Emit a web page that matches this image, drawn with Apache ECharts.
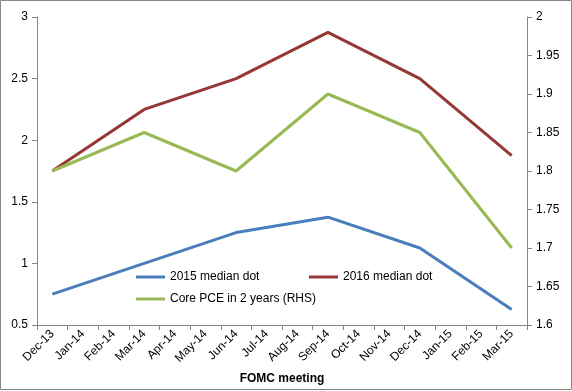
<!DOCTYPE html>
<html><head><meta charset="utf-8">
<script src="https://cdn.jsdelivr.net/npm/echarts@6/dist/echarts.min.js"></script>
<style>html,body{margin:0;padding:0;background:#fff}#c{width:572px;height:391px}</style>
</head><body><div id="c"></div>
<script>
const categories = ['Dec-13','Jan-14','Feb-14','Mar-14','Apr-14','May-14','Jun-14','Jul-14','Aug-14','Sep-14','Oct-14','Nov-14','Dec-14','Jan-15','Feb-15','Mar-15'];
const dot2015 = [0.75,null,null,1.0,null,null,1.25,null,null,1.375,null,null,1.125,null,null,0.625];
const dot2016 = [1.75,null,null,2.25,null,null,2.5,null,null,2.875,null,null,2.5,null,null,1.875];
const corePCE = [1.8,null,null,1.85,null,null,1.8,null,null,1.9,null,null,1.85,null,null,1.7];
const leftTicks = [0.5,1,1.5,2,2.5,3];
const rightTicks = [1.6,1.65,1.7,1.75,1.8,1.85,1.9,1.95,2];

const font = 'Liberation Sans';
const txt = {color:'#000', fontFamily:font, fontSize:12};
const chart = echarts.init(document.getElementById('c'));
const axisLine = {show:true, lineStyle:{color:'#868686', width:1}};
const legendCommon = {icon:'rect', itemWidth:29, itemHeight:3, textStyle:Object.assign({}, txt, {fontSize:12}), itemGap:10};
chart.setOption({
  animation:false,
  backgroundColor:'#fff',
  graphic:[{type:'rect', shape:{x:0.5,y:0.5,width:571,height:389}, style:{fill:null, stroke:'#868686', lineWidth:1}, silent:true}],
  grid:{left:37, right:45, top:17, bottom:66, containLabel:false, outerBoundsMode:'none'},
  legend:[
    Object.assign({data:['2015 median dot'], left:131, top:266}, legendCommon),
    Object.assign({data:['2016 median dot'], left:304, top:266}, legendCommon),
    Object.assign({data:['Core PCE in 2 years (RHS)'], left:131, top:288}, legendCommon)
  ],
  xAxis:{type:'category', data:categories, boundaryGap:true,
    axisLine:axisLine, axisTick:{show:true, alignWithLabel:false, length:5, lineStyle:{color:'#868686'}},
    axisLabel:Object.assign({rotate:45, interval:0, margin:7}, txt),
    name:'FOMC meeting', nameLocation:'middle', nameGap:48,
    nameTextStyle:{color:'#000', fontFamily:font, fontSize:12, fontWeight:'bold'}},
  yAxis:[
    {type:'value', min:0.5, max:3, interval:0.5, position:'left',
     axisLine:axisLine, axisTick:{show:true, length:5, lineStyle:{color:'#868686'}},
     splitLine:{show:false}, axisLabel:Object.assign({margin:9, formatter:v=>String(v)}, txt)},
    {type:'value', min:1.6, max:2, interval:0.05, position:'right',
     axisLine:axisLine, axisTick:{show:true, length:5, lineStyle:{color:'#868686'}},
     splitLine:{show:false}, axisLabel:Object.assign({margin:9, formatter:v=>String(+v.toFixed(2))}, txt)}
  ],
  series:[
    {name:'2015 median dot', type:'line', data:dot2015, connectNulls:true, symbol:'none', yAxisIndex:0,
     itemStyle:{color:'#4A7EBB'}, lineStyle:{color:'#4A7EBB', width:3}},
    {name:'2016 median dot', type:'line', data:dot2016, connectNulls:true, symbol:'none', yAxisIndex:0,
     itemStyle:{color:'#953735'}, lineStyle:{color:'#953735', width:3}},
    {name:'Core PCE in 2 years (RHS)', type:'line', data:corePCE, connectNulls:true, symbol:'none', yAxisIndex:1,
     itemStyle:{color:'#98B954'}, lineStyle:{color:'#98B954', width:3}}
  ]
});
</script></body></html>
